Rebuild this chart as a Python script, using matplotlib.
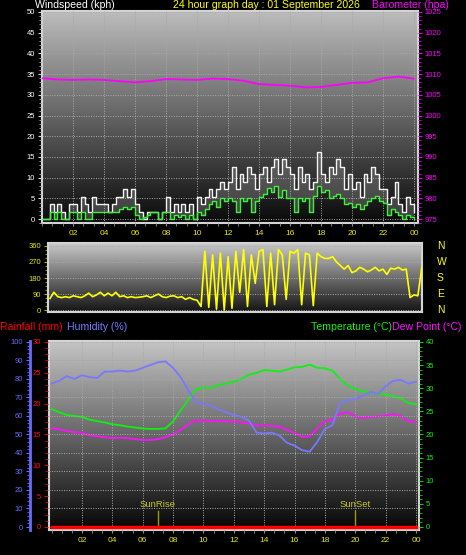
import numpy as np
import matplotlib.pyplot as plt
from matplotlib.colors import LinearSegmentedColormap
from matplotlib.ticker import MultipleLocator, FixedLocator

plt.rcParams['font.family'] = ['Liberation Sans', 'DejaVu Sans']

# ---- data ----
# wind, every 15 minutes from 00:00 to 24:00 (kph)
wind_gust = [0, 0, 3.6, 1.8,  3.6, 1.8, 0, 3.6,  3.6, 1.8, 5.4, 3.6,  1.8, 5.4, 3.6, 3.6,
             3.6, 1.8, 3.6, 5.4,  5.4, 7.2, 5.4, 7.2,  3.6, 1.8, 0, 1.8,  1.8, 1.8, 0, 1.8,
             5.4, 1.8, 3.6, 1.8,  3.6, 1.8, 3.6, 0,  5.4, 3.6, 5.4, 7.2,  5.4, 7.2, 9.0, 7.2,
             9.0, 12.6, 7.2, 10.8,  9.0, 12.6, 10.8, 7.2,  10.8, 12.6, 9.0, 12.6,  14.4, 10.8, 14.4, 12.6,
             10.8, 7.2, 12.6, 9.0,  10.8, 7.2, 9.0, 16.2,  10.8, 9.0, 12.6, 10.8,  14.4, 12.6, 7.2, 10.8,
             7.2, 9.0, 5.4, 10.8,  9.0, 12.6, 10.8, 7.2,  7.2, 3.6, 5.4, 9.0,  3.6, 1.8, 5.4, 3.6, 1.8]
wind_avg = [0, 0, 1.8, 0,  1.8, 0, 0, 1.8,  1.8, 0, 1.8, 0,  0, 1.8, 1.8, 1.8,
            1.8, 1.8, 1.8, 1.8,  2.5, 3.0, 2.5, 3.0,  1.0, 0, 0.5, 1.0,  1.8, 1.8, 0, 1.8,
            1.8, 0, 1.0, 0.5,  1.0, 0, 1.0, 0,  1.8, 1.0, 2.5, 3.6,  4.5, 3.0, 5.0, 4.5,
            5.0, 4.5, 1.8, 5.0,  4.5, 5.0, 1.8, 4.5,  5.4, 6.0, 7.5, 6.5,  8.0, 5.4, 7.0, 5.0,
            5.0, 1.8, 5.0, 4.5,  5.0, 1.8, 5.5, 8.0,  6.5, 7.0, 5.0, 5.5,  6.0, 5.0, 3.6, 4.0,
            3.0, 3.6, 2.5, 3.5,  4.5, 5.0, 5.5, 4.5,  4.0, 1.0, 2.5, 1.8,  1.0, 0, 1.0, 0.5, 0]
wind_dir = [65, 100, 75, 70,  75, 70, 80, 75,  70, 80, 95, 75,  85, 100, 80, 95,
            80, 100, 75, 80,  70, 75, 70, 72,  75, 80, 70, 80,  90, 75, 70, 78,
            80, 70, 75, 60,  70, 60, 55, 20,  330, 15, 310, 5,  320, 0, 300, 10,
            330, 100, 340, 20,  310, 150, 330, 340,  20, 320, 30, 340,  310, 60, 330, 320,
            340, 30, 320, 310,  25, 320, 300, 290,  290, 300, 270, 250,  230, 250, 210, 220,
            240, 230, 215, 225,  240, 220, 230, 200,  235, 230, 240, 225,  230, 70, 85, 80, 235]

# hourly barometer (hPa)
pressure = [1009.0, 1008.7, 1008.6, 1008.7, 1008.6, 1008.3, 1008.0, 1008.3, 1008.8, 1008.7,
            1008.6, 1008.9, 1008.8, 1008.4, 1007.6, 1007.4, 1007.2, 1006.8, 1006.9, 1007.4,
            1007.9, 1008.0, 1009.0, 1009.4, 1008.9]

# half-hourly temperature, humidity, dew point
temperature = [25.5, 24.8, 24.2, 24.0, 23.8, 23.2, 22.9, 22.6, 22.2, 22.0, 21.7, 21.5, 21.3, 21.2,
               21.2, 21.3, 22.8, 25.2, 27.5, 29.8, 30.1, 30.0, 30.7, 31.0, 31.4, 32.0, 32.9, 33.3,
               33.9, 33.8, 33.6, 34.0, 34.5, 34.6, 35.1, 34.4, 34.3, 33.8, 32.0, 30.6, 29.8, 29.3,
               29.1, 28.9, 28.6, 28.3, 27.8, 26.8, 26.5]
humidity = [77.5, 79, 81.5, 80, 82, 81, 80.5, 84, 84, 84.5, 84, 84.5, 86, 87.5, 89, 89.5, 86, 81,
            74, 67.5, 66.5, 65.5, 63.5, 62, 60.5, 59.5, 57.5, 51, 50.5, 51, 49.5, 45.5, 44, 41.5,
            40.7, 46, 53, 55, 67, 68.5, 69, 71, 73, 72, 76, 79, 79.5, 77.5, 78.5]
dewpoint = [21.4, 21.1, 20.8, 20.5, 20.4, 19.8, 19.6, 19.4, 19.2, 19.3, 19.2, 19.0, 18.8, 18.8,
            19.0, 19.4, 20.0, 21.0, 22.2, 23.0, 23.0, 22.9, 22.9, 22.8, 22.8, 22.6, 22.4, 21.9,
            22.0, 21.8, 21.7, 21.0, 20.3, 19.5, 19.6, 21.3, 22.9, 23.2, 24.5, 24.8, 23.9, 23.5,
            23.8, 23.9, 24.1, 24.4, 24.0, 22.8, 22.7]
rainfall = [0.0] * 25

hour_labels = ['02', '04', '06', '08', '10', '12', '14', '16', '18', '20', '22', '00']
sunrise, sunset = 7.0, 20.0

t15 = np.arange(len(wind_gust)) / 4
t30 = np.arange(len(temperature)) / 2
t60 = np.arange(len(pressure))

W, H = 466, 555
fig = plt.figure(figsize=(W / 100, H / 100), dpi=100, facecolor='black')


def box(x0, y0, x1, y1):
    return [x0 / W, 1 - y1 / H, (x1 - x0) / W, (y1 - y0) / H]


def shade(ax, top, bottom):
    cmap = LinearSegmentedColormap.from_list('bg', [bottom, top])
    x0, x1 = ax.get_xlim()
    y0, y1 = ax.get_ylim()
    ax.imshow(np.linspace(0, 1, 128).reshape(-1, 1), cmap=cmap, extent=[x0, x1, y0, y1],
              origin='lower', aspect='auto', zorder=0)
    ax.set_xlim(x0, x1)
    ax.set_ylim(y0, y1)


def frame(ax):
    for s in ax.spines.values():
        s.set_color('#d4d4d4')
        s.set_linewidth(1.5)


grid_kw = dict(color='#a8a8a8', linestyle=(0, (1, 1.5)), linewidth=0.7)
yellow = '#e8e800'

# ---- wind speed / barometer ----
ax1 = fig.add_axes(box(42, 10.7, 418, 223.3))
ax1.set_xlim(0, 24.26)
ax1.set_ylim(-1, 50.3)
shade(ax1, '#bdbdbd', '#0a0a0a')
frame(ax1)
ax1.fill_between(t15, wind_avg, wind_gust, step='post', color='#9a9a9a', alpha=0.35, lw=0, zorder=2)
ax1.step(t15, wind_gust, where='post', color='#f2f2f2', lw=1.0, zorder=3)
ax1.step(t15, wind_avg, where='post', color='#3cf03c', lw=1.0, zorder=4)
ax1.yaxis.set_major_locator(MultipleLocator(5))
ax1.yaxis.set_minor_locator(MultipleLocator(1))
ax1.xaxis.set_major_locator(FixedLocator(range(2, 25, 2)))
ax1.xaxis.set_minor_locator(MultipleLocator(2 / 3))
ax1.set_xticklabels(hour_labels)
ax1.tick_params(axis='y', colors='#d8d8d8', labelcolor='white', labelsize=5.5, length=3, pad=2)
ax1.tick_params(axis='y', which='minor', colors='#b0b0b0', length=2)
ax1.tick_params(axis='x', which='both', colors='#909090', labelcolor=yellow, labelsize=6, length=2, pad=3)
ax1.grid(True, **grid_kw)
ax1.set_axisbelow(False)

ax1b = ax1.twinx()
ax1b.set_ylim(974, 1025.3)
ax1b.plot(t60, pressure, color='#ff00ff', lw=1.3)
ax1b.yaxis.set_major_locator(MultipleLocator(5))
ax1b.yaxis.set_minor_locator(MultipleLocator(1))
ax1b.tick_params(axis='y', colors='#e000e0', labelcolor='#ff00ff', labelsize=5.5, length=3, pad=2)
ax1b.tick_params(axis='y', which='minor', colors='#e000e0', length=2)
for s in ax1b.spines.values():
    s.set_visible(False)

# ---- wind direction ----
ax2 = fig.add_axes(box(48, 243.3, 422, 312))
ax2.set_xlim(-0.13, 24.02)
ax2.set_ylim(-11, 375)
shade(ax2, '#c8c8c8', '#141414')
frame(ax2)
ax2.plot(t15, wind_dir, color='#ffff00', lw=1.2, zorder=3)
ax2.yaxis.set_major_locator(MultipleLocator(90))
ax2.yaxis.set_minor_locator(MultipleLocator(22.5))
ax2.set_xticks([])
ax2.tick_params(axis='y', which='both', colors='#b0b000', labelcolor=yellow, labelsize=5.5, length=3, pad=2)
ax2.tick_params(axis='y', which='minor', length=2)
ax2.yaxis.grid(True, **grid_kw)
for lbl, v in zip(['N', 'W', 'S', 'E', 'N'], [360, 270, 180, 90, 0]):
    ax2.text(1.04, v, lbl, transform=ax2.get_yaxis_transform(), color='#ffff00',
             fontsize=7.5, va='center', ha='left')

# ---- temperature / humidity / rain ----
ax3 = fig.add_axes(box(49, 341, 419, 530))
ax3.set_xlim(-0.17, 24.2)
ax3.set_ylim(-0.65, 40.2)
shade(ax3, '#c4c4c4', '#060606')
frame(ax3)
ax3.plot(t30, temperature, color='#10f010', lw=1.3, zorder=4)
ax3.plot(t30, dewpoint, color='#ff10ff', lw=1.3, zorder=4)

# sunrise / sunset markers
for t, name in [(sunrise, 'SunRise'), (sunset, 'SunSet')]:
    ax3.plot([t, t], [0, 3.5], color='#9a9a10', lw=1, zorder=3)
    ax3.text(t, 3.8, name, color='#c8c830', fontsize=6.8, ha='center', va='bottom', zorder=3)

axh = ax3.twinx()
axh.set_ylim(-1.62, 100.5)
axh.plot(t30, humidity, color='#7878ff', lw=1.3, zorder=3)
axh.yaxis.tick_left()
axh.yaxis.set_major_locator(MultipleLocator(10))
axh.yaxis.set_minor_locator(MultipleLocator(2))
axh.tick_params(axis='y', which='both', colors='#6a6aff', labelcolor='#6a6aff', labelsize=5.5, length=3, pad=2)
axh.tick_params(axis='y', which='minor', length=2)
axh.yaxis.grid(True, **grid_kw)
for s in axh.spines.values():
    s.set_visible(False)
axh.spines['left'].set_visible(True)
axh.spines['left'].set_color('#6a6aff')
axh.spines['left'].set_linewidth(2)
axh.spines['left'].set_position(('outward', 19 * 0.72))

axr = ax3.twinx()
axr.set_ylim(-0.49, 30.15)
axr.plot(t60, rainfall, color='#ff0000', lw=2.5, zorder=5)
axr.yaxis.tick_left()
axr.yaxis.set_major_locator(MultipleLocator(5))
axr.yaxis.set_minor_locator(MultipleLocator(1))
axr.tick_params(axis='y', which='both', colors='#e00000', labelcolor='#ff1010', labelsize=5.5, length=3, pad=2)
axr.tick_params(axis='y', which='minor', length=2)
for s in axr.spines.values():
    s.set_visible(False)
axr.spines['left'].set_position(('outward', 1))

# twinx moved the temperature ticks to the left, put them back
ax3.yaxis.tick_right()
ax3.yaxis.set_major_locator(MultipleLocator(5))
ax3.yaxis.set_minor_locator(MultipleLocator(1))
ax3.tick_params(axis='y', which='both', colors='#10d010', labelcolor='#10f010', labelsize=5.5, length=3, pad=2)
ax3.tick_params(axis='y', which='minor', length=2)
ax3.xaxis.set_major_locator(FixedLocator(range(2, 25, 2)))
ax3.xaxis.set_minor_locator(MultipleLocator(2 / 3))
ax3.set_xticklabels(hour_labels)
ax3.tick_params(axis='x', which='both', colors='#909090', labelcolor=yellow, labelsize=6, length=2, pad=3)
ax3.xaxis.grid(True, **grid_kw)
ax3.set_axisbelow(False)

# ---- titles ----
fig.text(35 / W, 1 - 5.5 / H, 'Windspeed (kph)', color='white', fontsize=7.6, va='center', ha='left')
fig.text(266 / W, 1 - 5.5 / H, '24 hour graph day : 01 September 2026', color='#ffff00',
         fontsize=7.6, va='center', ha='center')
fig.text(372 / W, 1 - 5.5 / H, 'Barometer (hpa)', color='#ff00ff', fontsize=7.6, va='center', ha='left')
fig.text(0, 1 - 327 / H, 'Rainfall (mm)', color='#ff0000', fontsize=7.6, va='center', ha='left')
fig.text(67 / W, 1 - 327 / H, 'Humidity (%)', color='#7878ff', fontsize=7.6, va='center', ha='left')
fig.text(392 / W, 1 - 327 / H, 'Temperature (°C)', color='#10f010', fontsize=7.6, va='center', ha='right')
fig.text(392 / W, 1 - 327 / H, 'Dew Point (°C)', color='#ff10ff', fontsize=7.6, va='center', ha='left')

fig.savefig('out.png', dpi=100, facecolor='black')
